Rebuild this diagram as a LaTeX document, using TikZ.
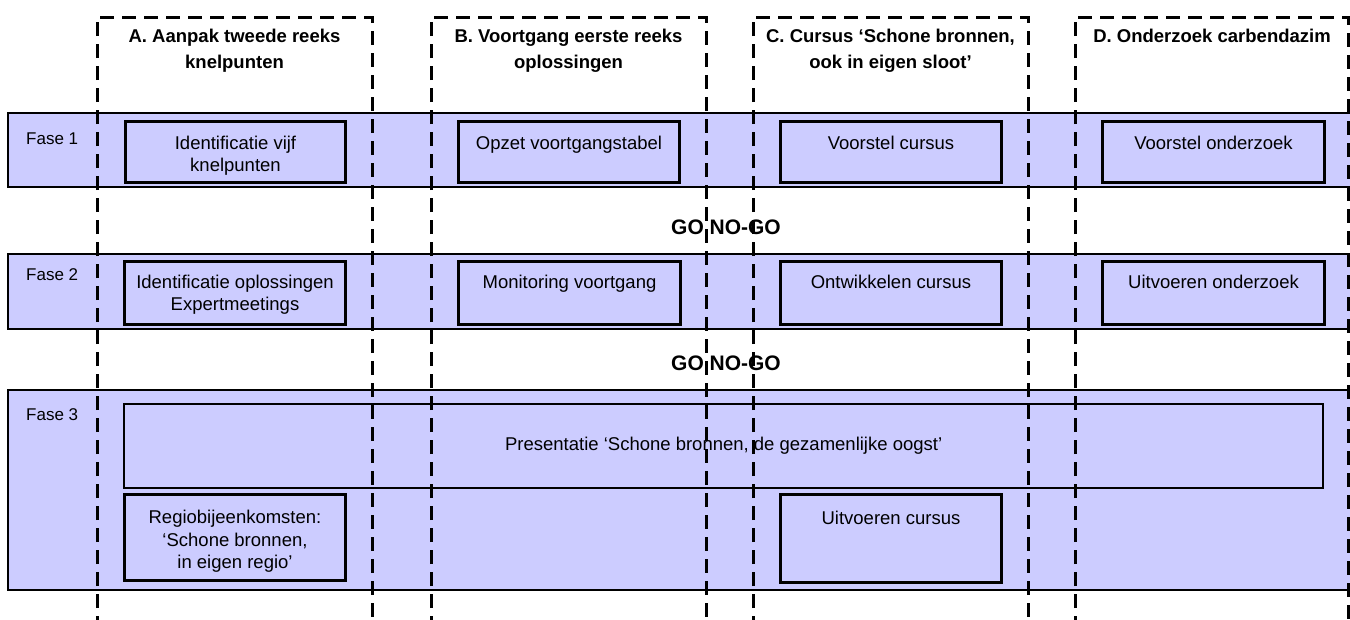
\documentclass[tikz,border=0pt]{standalone}
\usepackage{fontspec}
\setmainfont{Liberation Sans}
\definecolor{lav}{HTML}{CCCCFF}
\begin{document}
\begin{tikzpicture}[x=1pt,y=-1pt,
  band/.style={draw=black, line width=2.8pt, fill=lav},
  box/.style={draw=black, line width=3pt, fill=lav, inner sep=0pt, anchor=north west},
  txt/.style={font=\fontsize{18.5}{21.5}\selectfont, align=center, inner sep=0pt, anchor=north},
  head/.style={font=\bfseries\fontsize{18.5}{26}\selectfont, align=center, inner sep=0pt, anchor=north},
  fase/.style={font=\fontsize{17}{20}\selectfont, inner sep=0pt, anchor=north west},
  gonogo/.style={font=\bfseries\fontsize{21}{24}\selectfont, inner sep=0pt},
  col/.style={line width=3pt, dash pattern=on 14pt off 8pt}]
\useasboundingbox (0,0) rectangle (1350,619);

% headers
\node[head] (hA) at (234.5,29) {A. Aanpak tweede reeks\\knelpunten};
\node[head] (hB) at (568.5,29) {B. Voortgang eerste reeks\\oplossingen};
\node[head] (hC) at (890.5,29) {C. Cursus ‘Schone bronnen,\\ook in eigen sloot’};
\node[head] (hD) at (1212,29) {D. Onderzoek carbendazim};

% bands
\draw[band] (8,113) rectangle (1353,187);
\draw[band] (8,254) rectangle (1353,329);
\draw[band] (8,390) rectangle (1353,590);

\node[fase] (f1) at (26,133) {Fase 1};
\node[fase] (f2) at (26,268) {Fase 2};
\node[fase] (f3) at (26,408) {Fase 3};

% Fase 1 boxes
\node[box, minimum width=220pt, minimum height=61pt] (b1a) at (124,120) {};
\node[txt] (t1a) at ([yshift=-16pt]b1a.north) {Identificatie vijf\\knelpunten};
\node[box, minimum width=221pt, minimum height=61pt] (b1b) at (457,120) {};
\node[txt] (t1b) at ([yshift=-16pt]b1b.north) {Opzet voortgangstabel};
\node[box, minimum width=221pt, minimum height=61pt] (b1c) at (779,120) {};
\node[txt] (t1c) at ([yshift=-16pt]b1c.north) {Voorstel cursus};
\node[box, minimum width=222pt, minimum height=61pt] (b1d) at (1101,120) {};
\node[txt] (t1d) at ([yshift=-16pt]b1d.north) {Voorstel onderzoek};

\node[gonogo] (g1) at (726,227) {GO NO-GO};

% Fase 2 boxes
\node[box, minimum width=221pt, minimum height=63pt] (b2a) at (123,260) {};
\node[txt] (t2a) at ([yshift=-15pt]b2a.north) {Identificatie oplossingen\\Expertmeetings};
\node[box, minimum width=222pt, minimum height=63pt] (b2b) at (457,260) {};
\node[txt] (t2b) at ([yshift=-15pt]b2b.north) {Monitoring voortgang};
\node[box, minimum width=221pt, minimum height=63pt] (b2c) at (779,260) {};
\node[txt] (t2c) at ([yshift=-15pt]b2c.north) {Ontwikkelen cursus};
\node[box, minimum width=222pt, minimum height=63pt] (b2d) at (1101,260) {};
\node[txt] (t2d) at ([yshift=-15pt]b2d.north) {Uitvoeren onderzoek};

\node[gonogo] (g2) at (726,363) {GO NO-GO};

% Fase 3 boxes
\node[box, line width=2.3pt, minimum width=1199pt, minimum height=84pt] (b3p) at (123,403) {};
\node[txt, anchor=center] (t3p) at (b3p.center) {Presentatie ‘Schone bronnen, de gezamenlijke oogst’};
\node[box, minimum width=221pt, minimum height=86pt] (b3a) at (123,493) {};
\node[txt, font=\fontsize{18.5}{22.5}\selectfont] (t3a) at ([yshift=-17pt]b3a.north) {Regiobijeenkomsten:\\‘Schone bronnen,\\in eigen regio’};
\node[box, minimum width=221pt, minimum height=88pt] (b3c) at (779,493) {};
\node[txt] (t3c) at ([yshift=-18pt]b3c.north) {Uitvoeren cursus};

% dashed column frames
\draw[col] (97,630) -- (97,17) -- (372,17) -- (372,630);
\draw[col] (431,630) -- (431,17) -- (706,17) -- (706,630);
\draw[col] (753,630) -- (753,17) -- (1028,17) -- (1028,630);
\draw[col] (1075,630) -- (1075,17) -- (1348,17) -- (1348,630);
\end{tikzpicture}
\end{document}
